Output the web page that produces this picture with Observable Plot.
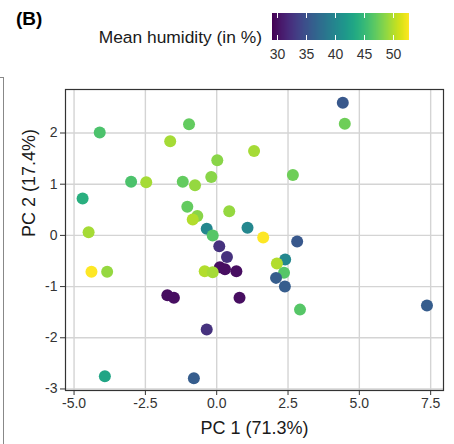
<!DOCTYPE html>
<html>
<head>
<meta charset="utf-8">
<script src="https://cdn.jsdelivr.net/npm/d3@7"></script>
<script src="https://cdn.jsdelivr.net/npm/@observablehq/plot@0.6"></script>
<style>
  html, body { margin: 0; padding: 0; background: white; }
  #wrap { position: relative; width: 454px; height: 444px; overflow: hidden; font-family: "Liberation Sans", Arial, sans-serif; }
  #title { position: absolute; left: 16px; top: 8px; font-size: 19px; font-weight: bold; color: #000; }
  #leglabel { position: absolute; right: 192px; top: 27px; font-size: 17.4px; color: #1a1a1a; white-space: nowrap; }
  #legend { position: absolute; left: 262px; top: 13px; }
  #legend line { stroke: white; stroke-width: 1; stroke-dasharray: 5 17 5 99; }
  #side { position: absolute; left: 0; top: 77px; width: 3px; height: 400px; border-top: 1px solid #888; border-right: 1px solid #888; }
</style>
</head>
<body>
<div id="wrap">
  <div id="plot"></div>
  <div id="side"></div>
  <div id="title">(B)</div>
  <div id="leglabel">Mean humidity (in %)</div>
  <div id="legend"></div>
</div>
<script>
// PCA scores
const pc1 = [-4.10, -0.97, -1.63, 0.02, -0.19, -3.00, -2.47, -1.19, -0.76, -4.70,
             -1.03, -0.68, -0.84, -0.35, -0.14, -4.49, 4.42, 4.49, 1.31, 2.67,
             0.44, 1.08, 1.63, 2.82, 0.09, 0.36, 2.40, 2.11, 2.36, 2.08,
             2.39, 0.11, 0.29, 0.69, -0.42, -0.14, -1.73, -1.50, 0.80, 2.92,
             -4.39, -3.84, -0.35, -3.92, -0.80, 7.37];
const pc2 = [2.01, 2.17, 1.84, 1.47, 1.14, 1.05, 1.04, 1.05, 0.98, 0.72,
             0.56, 0.38, 0.31, 0.13, 0.00, 0.06, 2.59, 2.18, 1.65, 1.18,
             0.47, 0.15, -0.04, -0.12, -0.21, -0.42, -0.47, -0.55, -0.73, -0.83,
             -1.00, -0.62, -0.66, -0.70, -0.70, -0.72, -1.17, -1.22, -1.22, -1.45,
             -0.71, -0.71, -1.84, -2.75, -2.79, -1.37];
const humidity = [46, 47, 49.5, 48.5, 48.5, 46, 49.5, 47, 49, 44,
                  47, 48.5, 50, 40, 46.5, 49.5, 35.5, 47.5, 49.5, 47.5,
                  49, 40, 52.7, 35.5, 32.5, 32.5, 40, 50, 46.5, 36,
                  36, 30, 30, 30, 50, 49.5, 30, 30, 30, 46.5,
                  52.7, 49, 32.5, 43, 36, 36];
const xTicks = [-5, -2.5, 0, 2.5, 5, 7.5];
const yTicks = [-3, -2, -1, 0, 1, 2];
const legendTicks = [30, 35, 40, 45, 50];
const xTitle = "PC 1 (71.3%)";
const yTitle = "PC 2 (17.4%)";

const data = pc1.map((x, i) => ({x, y: pc2[i], h: humidity[i]}));
const colorDomain = [29.1, 52.7];
const font = "'Liberation Sans', Arial, sans-serif";

const chart = Plot.plot({
  width: 454,
  height: 444,
  marginLeft: 65,
  marginRight: 11,
  marginTop: 89,
  marginBottom: 54,
  style: {fontFamily: font, fontSize: "14px", color: "#333", background: "white"},
  x: {domain: [-5.30, 7.95], ticks: xTicks, tickFormat: d => d.toFixed(1), tickSize: 5, tickPadding: 3, label: null},
  y: {domain: [-3.03, 2.85], ticks: yTicks, tickFormat: d => String(d), tickSize: 5, tickPadding: 3, label: null},
  color: {type: "linear", scheme: "viridis", domain: colorDomain},
  marks: [
    Plot.ruleX(xTicks, {stroke: "#d4d4d4", strokeWidth: 1.4}),
    Plot.ruleY(yTicks, {stroke: "#d4d4d4", strokeWidth: 1.4}),
    Plot.frame({stroke: "#333", strokeWidth: 1.2}),
    Plot.dot(data, {x: "x", y: "y", fill: "h", r: 6, stroke: null}),
    Plot.text([xTitle], {text: d => d, frameAnchor: "bottom", dy: 37.5, fontSize: 18, fill: "#1a1a1a", lineAnchor: "middle"}),
    Plot.text([yTitle], {text: d => d, frameAnchor: "left", dx: -36, dy: -3, rotate: -90, fontSize: 18, fill: "#1a1a1a", lineAnchor: "middle"})
  ]
});
document.getElementById("plot").appendChild(chart);

const leg = Plot.legend({
  color: {type: "linear", scheme: "viridis", domain: colorDomain},
  width: 157,
  height: 53,
  marginTop: 0,
  marginBottom: 26,
  marginLeft: 10,
  marginRight: 10,
  ticks: legendTicks,
  tickSize: 6,
  label: null,
  style: {fontFamily: font, fontSize: "14px", color: "#333", background: "transparent", overflow: "visible"}
});
document.getElementById("legend").appendChild(leg);
</script>
</body>
</html>
